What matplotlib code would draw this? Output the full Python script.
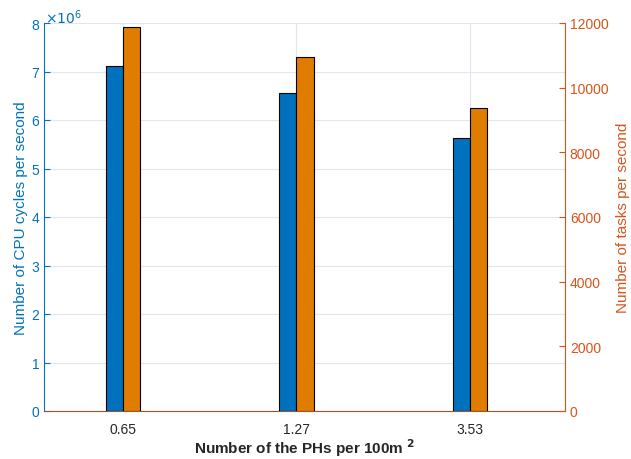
import numpy as np
import matplotlib
matplotlib.use('Agg')
import matplotlib.pyplot as plt

plt.rcParams['font.family'] = ['Liberation Sans', 'DejaVu Sans']

densities = ['0.65', '1.27', '3.53']
cpu_cycles = [7.11e6, 6.56e6, 5.62e6]
tasks = [11880, 10940, 9380]

blue = '#0072BD'
orange = '#E07D00'
red_axis = '#D95319'
grid_col = '#DFE6EE'

fig = plt.figure(figsize=(6.31, 4.60), dpi=100)
ax = fig.add_axes([44/631, 48/460, 521/631, 388/460])
ax2 = ax.twinx()

x = np.arange(1, len(densities) + 1)
w = 0.1
ax.bar(x - w/2, cpu_cycles, width=w, color=blue, edgecolor='black', linewidth=0.8, zorder=3)
ax2.bar(x + w/2, tasks, width=w, color=orange, edgecolor='black', linewidth=0.8, zorder=3)

ax.set_xlim(0.545, 3.548)
ax.set_ylim(0, 8e6)
ax2.set_ylim(0, 12000)
ax.set_xticks(x)
ax.set_xticklabels(densities)
ax.set_yticks(np.arange(0, 9) * 1e6)
ax.set_yticklabels([str(i) for i in range(9)])
ax2.set_yticks(np.arange(0, 12001, 2000))

ax.set_axisbelow(True)
ax.grid(True, color=grid_col, linewidth=0.8)

for a in (ax, ax2):
    a.spines['top'].set_visible(False)
ax.spines['left'].set_color(blue)
ax.spines['right'].set_visible(False)
ax2.spines['left'].set_visible(False)
ax2.spines['right'].set_color(red_axis)
ax.spines['bottom'].set_color('#A0522D')
ax2.spines['bottom'].set_visible(False)

ax.tick_params(axis='y', direction='in', colors=blue, labelsize=10, length=4)
ax.tick_params(axis='x', direction='in', colors='#262626', labelsize=10, length=0, pad=8)
ax2.tick_params(axis='y', direction='in', colors=red_axis, labelsize=10, length=4)

ax.set_ylabel('Number of CPU cycles per second', color=blue, fontsize=11, labelpad=2)
ax2.set_ylabel('Number of tasks per second', color=red_axis, fontsize=11, rotation=90, labelpad=5)
ax.set_xlabel('Number of the PHs per 100m $^{\\mathbf{2}}$', fontsize=11, fontweight='bold', color='#262626', labelpad=0)

fig.text(45/631, 452/460, r'$\times 10^{6}$', color=blue, fontsize=10, va='top', ha='left',
         family='DejaVu Sans')

fig.savefig('out.png', dpi=100)
